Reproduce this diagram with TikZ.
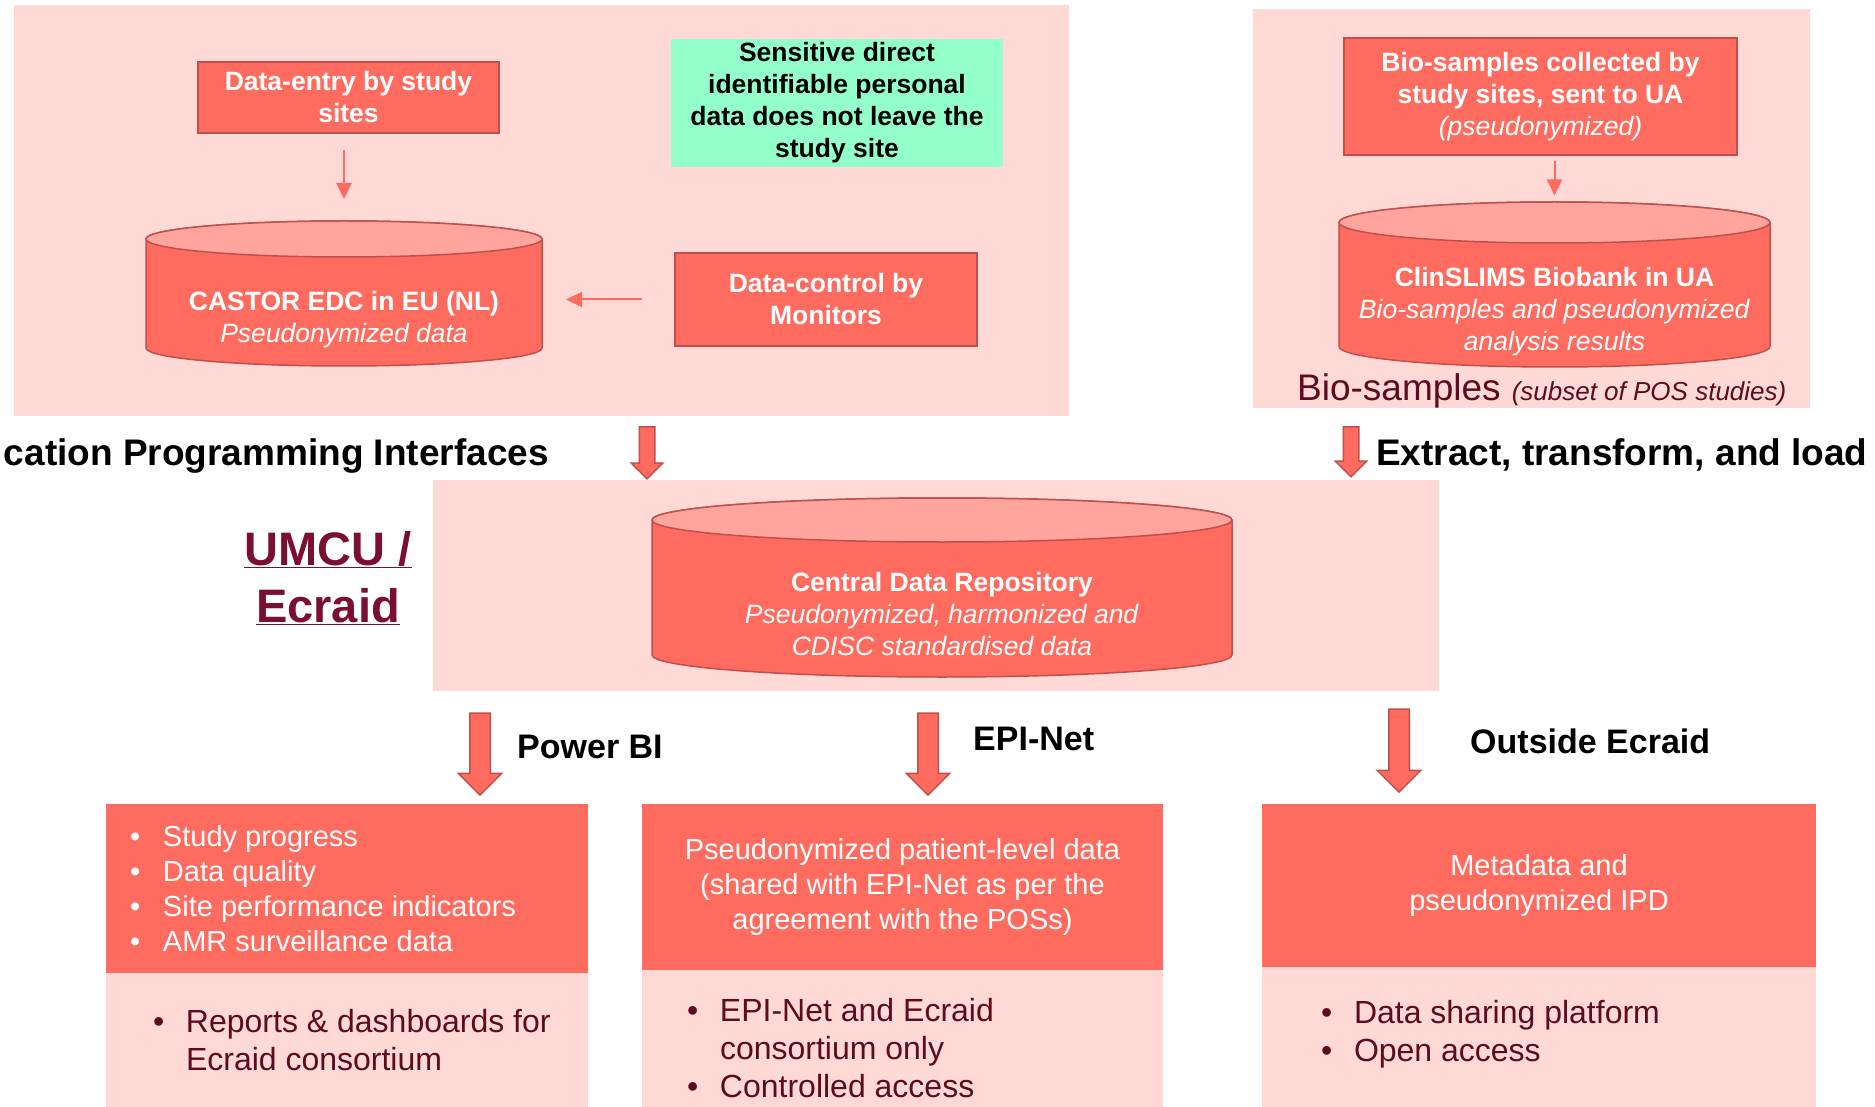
\documentclass[tikz,border=0pt]{standalone}
\usepackage{fontspec}
\setmainfont{Liberation Sans}
\usepackage{tikz}
\usetikzlibrary{arrows.meta, positioning, shapes.geometric, shapes.arrows}
\definecolor{SoftPink}{HTML}{FFD9D6}
\definecolor{Coral}{HTML}{FF6B5F}
\definecolor{CoralTop}{HTML}{FFA59D}
\definecolor{CoralEdge}{HTML}{C0504D}
\definecolor{Mint}{HTML}{93FFCA}
\definecolor{Wine}{HTML}{5C0B20}
\definecolor{Claret}{HTML}{7A0F2F}
\newcommand{\bul}[1]{\makebox[33pt][l]{\textbullet}#1}
\newcommand{\hang}[1]{\makebox[33pt]{}#1}
% database drum round a named body node: name, x radius, y radius
\newcommand{\drum}[3]{%
  \path[dbskin, fill=Coral] (#1.north west) -- (#1.south west)
    arc[start angle=180, end angle=360, x radius=#2pt, y radius=#3pt]
    -- (#1.north east) arc[start angle=0, end angle=180, x radius=#2pt, y radius=#3pt] -- cycle;
  \path[dbskin, fill=CoralTop] (#1.north) ellipse[x radius=#2pt, y radius=#3pt];}
\tikzset{
  region/.style={fill=SoftPink},
  redbox/.style={rectangle, fill=Coral, draw=CoralEdge, line width=1.5pt, text=white, align=center, inner sep=0pt, font=\bfseries\fontsize{26.5}{32}\selectfont},
  notebox/.style={rectangle, fill=Mint, text=black, align=center, inner sep=0pt, font=\bfseries\fontsize{26.5}{32}\selectfont},
  db/.style={rectangle, inner sep=0pt, outer sep=0pt},
  dbskin/.style={draw=CoralEdge, line width=1.5pt},
  dbtext/.style={text=white, align=center, inner sep=0pt, font=\fontsize{26.5}{32}\selectfont},
  thinarr/.style={-{Triangle[length=16pt, width=15pt]}, draw=Coral, line width=2pt},
  downarr/.style={single arrow, shape border rotate=270, fill=Coral, draw=CoralEdge, line width=1.5pt, single arrow tip angle=90, single arrow head indent=0pt},
  biglabel/.style={inner sep=0pt, font=\bfseries\fontsize{37}{44}\selectfont},
  flowlabel/.style={inner sep=0pt, font=\bfseries\fontsize{34}{40}\selectfont},
  hardpanel/.style={rectangle, fill=Coral, text=white, align=center, inner sep=0pt, font=\fontsize{29}{35}\selectfont},
  softpanel/.style={rectangle, fill=SoftPink, inner sep=0pt},
  hardlist/.style={text=white, align=left, inner sep=0pt, font=\fontsize{29}{35}\selectfont},
  softlist/.style={text=Wine, align=left, inner sep=0pt, font=\fontsize{32}{38}\selectfont}
}

\begin{document}
\begin{tikzpicture}[x=1pt, y=-1pt]
        \useasboundingbox (0,0) rectangle (1875,1107);
        % Regions
        \fill[region] (14,5) rectangle (1069,416);
        \fill[region] (1253,9) rectangle (1810,408);
        \fill[region] (433,480) rectangle (1439,691);

        % Study sites
        \node[redbox, minimum width=301, minimum height=71] (entry) at (348.5,97.5) {Data-entry by study\\sites};
        \node[notebox, minimum width=332, minimum height=128] (note) at (837,103) {Sensitive direct\\identifiable personal\\data does not leave the\\study site};
        \node[db, minimum width=396, minimum height=109] (castor) at (344,293.5) {};
        \drum{castor}{198}{18}
        \node[dbtext] (castortxt) at ([yshift=-26pt]castor.center) {\textbf{CASTOR EDC in EU (NL)}\\\textit{Pseudonymized data}};
        \node[redbox, minimum width=302, minimum height=93] (control) at (826,299.5) {Data-control by\\Monitors};

        % Bio-samples
        \node[redbox, minimum width=393, minimum height=117] (samples) at (1540.5,96.5) {Bio-samples collected by\\study sites, sent to UA\\{\mdseries\itshape (pseudonymized)}};
        \node[db, minimum width=431, minimum height=124] (biobank) at (1554.5,284.5) {};
        \drum{biobank}{215.5}{20.5}
        \node[dbtext] (biobanktxt) at ([yshift=-27pt]biobank.center) {\textbf{ClinSLIMS Biobank in UA}\\\textit{Bio-samples and pseudonymized}\\\textit{analysis results}};
        \node[anchor=base west, inner sep=0pt, text=Wine] (biolabel) at (1297,400) {{\fontsize{37}{44}\selectfont Bio-samples}\hspace{11pt}{\fontsize{26}{30}\selectfont\itshape (subset of POS studies)}};

        % Central repository
        \node[db, minimum width=580, minimum height=135] (repo) at (942,587.5) {};
        \drum{repo}{290}{22}
        \node[dbtext] (repotxt) at ([yshift=-27pt]repo.center) {\textbf{Central Data Repository}\\\textit{Pseudonymized, harmonized and}\\\textit{CDISC standardised data}};
        \node[text=Claret, align=center, inner sep=0pt, font=\bfseries\fontsize{47}{57}\selectfont] (umcu) at (328,578) {\underline{UMCU /}\\\underline{Ecraid}};

        % Flow labels
        \node[biglabel, anchor=base east] (api) at (549,465) {cation Programming Interfaces};
        \node[biglabel, anchor=base west] (etl) at (1376,465) {Extract, transform, and load};
        \node[flowlabel, anchor=base west] (pbi) at (517,758) {Power BI};
        \node[flowlabel, anchor=base west] (epi) at (973,750) {EPI-Net};
        \node[flowlabel, anchor=base west] (outside) at (1470,753) {Outside Ecraid};

        % Block arrows
        \node[downarr, minimum height=52, inner sep=7pt, single arrow head extend=8pt] (apiarr) at (647,449) {};
        \node[downarr, minimum height=50, inner sep=7pt, single arrow head extend=8pt] (etlarr) at (1351,448) {};
        \node[downarr, minimum height=82, inner sep=9.5pt, single arrow head extend=11.5pt] (pbiarr) at (480,749) {};
        \node[downarr, minimum height=82, inner sep=9.5pt, single arrow head extend=11.5pt] (epiarr) at (928,749) {};
        \node[downarr, minimum height=83, inner sep=9.5pt, single arrow head extend=11.5pt] (outarr) at (1399,745.5) {};

        % Output panels
        \node[hardpanel, minimum width=482, minimum height=169] (bitop) at (347,888.5) {};
        \node[hardlist, anchor=west] (bitoptxt) at ([xshift=24pt]bitop.west) {\bul{Study progress}\\\bul{Data quality}\\\bul{Site performance indicators}\\\bul{AMR surveillance data}};
        \node[softpanel, minimum width=482, minimum height=134] (bibot) at (347,1040) {};
        \node[softlist, anchor=west] (bibottxt) at ([xshift=47pt]bibot.west) {\bul{Reports \& dashboards for}\\\hang{Ecraid consortium}};
        \node[hardpanel, minimum width=521, minimum height=166] (epitop) at (902.5,887) {Pseudonymized patient-level data\\(shared with EPI-Net as per the\\agreement with the POSs)};
        \node[softpanel, minimum width=521, minimum height=137] (epibot) at (902.5,1038.5) {};
        \node[softlist, anchor=west] (epibottxt) at ([xshift=45pt, yshift=-10pt]epibot.west) {\bul{EPI-Net and Ecraid}\\\hang{consortium only}\\\bul{Controlled access}};
        \node[hardpanel, minimum width=554, minimum height=163] (outtop) at (1539,885.5) {Metadata and\\pseudonymized IPD};
        \node[softpanel, minimum width=554, minimum height=140] (outbot) at (1539,1037) {};
        \node[softlist, anchor=west] (outbottxt) at ([xshift=59pt, yshift=3pt]outbot.west) {\bul{Data sharing platform}\\\bul{Open access}};

        % Directed edges
        \draw[thinarr, shorten <=16pt, shorten >=40pt] (entry.south -| castor.north) -- (castor.north);
        \draw[thinarr, shorten <=32pt, shorten >=24pt] (control.west) -- (control.west -| castor.east);
        \draw[thinarr, shorten <=5pt, shorten >=27pt] (samples.south -| biobank.north) -- (biobank.north);
    \end{tikzpicture}
\end{document}
